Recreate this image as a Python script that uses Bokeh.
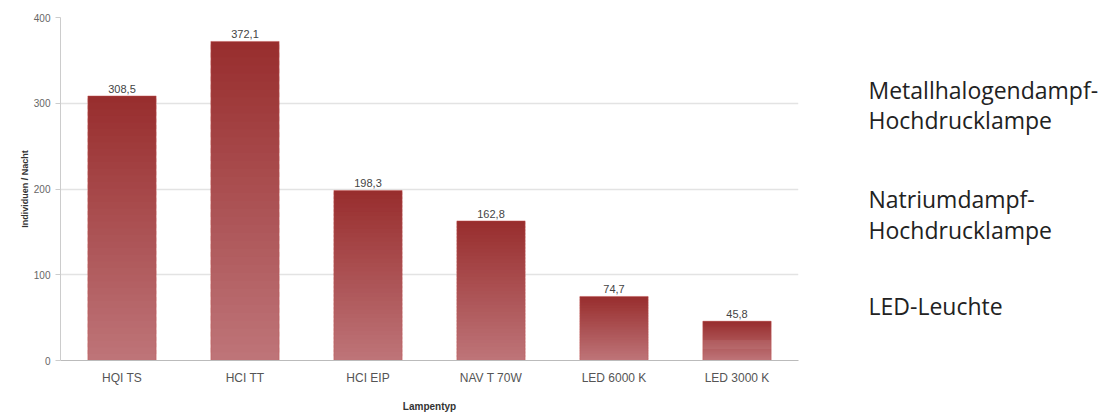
from bokeh.plotting import figure
from bokeh.layouts import row
from bokeh.models import FactorRange, Range1d, ColumnDataSource, FixedTicker
from bokeh.embed import file_html
from bokeh.resources import INLINE
from bokeh.core.properties import value

# ---- data ----
categories = ["HQI TS", "HCI TT", "HCI EIP", "NAV T 70W", "LED 6000 K", "LED 3000 K"]
values = [308.5, 372.1, 198.3, 162.8, 74.7, 45.8]
value_labels = ["308,5", "372,1", "198,3", "162,8", "74,7", "45,8"]
y_ticks = [0, 100, 200, 300, 400]
side_lines = ["Metallhalogendampf-", "Hochdrucklampe", "Natriumdampf-", "Hochdrucklampe", "LED-Leuchte"]

FONT = "Liberation Sans"

p = figure(x_range=FactorRange(*categories, range_padding=0),
           y_range=Range1d(0, 400),
           width=808, height=414, output_backend="svg", toolbar_location=None,
           min_border_left=60, min_border_right=10, min_border_top=17, min_border_bottom=50)
p.x_range.range_padding = 0
p.outline_line_color = None
p.background_fill_color = "white"
p.border_fill_color = "white"

# gradient bars: each bar split into slices from bottom (light) to top (dark)
N = 40
top_rgb = (0x98, 0x2E, 0x2E)
bot_rgb = (0xBE, 0x74, 0x78)
xs, bots, tops, cols = [], [], [], []
for c, v in zip(categories, values):
    for i in range(N):
        t = i / (N - 1)
        r = int(round(bot_rgb[0] + (top_rgb[0] - bot_rgb[0]) * t))
        g = int(round(bot_rgb[1] + (top_rgb[1] - bot_rgb[1]) * t))
        b = int(round(bot_rgb[2] + (top_rgb[2] - bot_rgb[2]) * t))
        xs.append(c)
        bots.append(v * i / N)
        tops.append(min(v, v * (i + 1.6) / N))
        cols.append("#%02x%02x%02x" % (r, g, b))
seg = ColumnDataSource(dict(x=xs, bottom=bots, top=tops, color=cols))
p.vbar(x="x", bottom="bottom", top="top", width=0.555, fill_color="color",
       line_color=None, source=seg)

src = ColumnDataSource(dict(x=categories, top=values, lab=value_labels))
p.vbar(x="x", top="top", width=0.555, fill_color=None, line_color="#c0504d",
       line_alpha=0.45, line_width=1, source=src)
p.text(x="x", y="top", text="lab", source=src, text_align="center",
       text_baseline="bottom", y_offset=-3, text_font=value(FONT),
       text_font_size="11px", text_color="#444444")

# axes
p.yaxis.ticker = FixedTicker(ticks=y_ticks)
p.yaxis.axis_label = "Individuen / Nacht"
p.yaxis.axis_label_text_font = FONT
p.yaxis.axis_label_text_font_size = "9px"
p.yaxis.axis_label_text_font_style = "bold"
p.yaxis.axis_label_text_color = "#333333"
p.yaxis.axis_label_standoff = 1
p.yaxis.major_label_text_font = FONT
p.yaxis.major_label_text_font_size = "10px"
p.yaxis.major_label_text_color = "#666666"
p.yaxis.major_label_standoff = 5
p.yaxis.axis_line_color = "#cccccc"
p.yaxis.major_tick_line_color = "#cccccc"
p.yaxis.major_tick_out = 5
p.yaxis.major_tick_in = 0
p.yaxis.minor_tick_line_color = None

p.xaxis.axis_label = "Lampentyp"
p.xaxis.axis_label_text_font = FONT
p.xaxis.axis_label_text_font_size = "10px"
p.xaxis.axis_label_text_font_style = "bold"
p.xaxis.axis_label_text_color = "#333333"
p.xaxis.axis_label_standoff = 13
p.xaxis.major_label_text_font = FONT
p.xaxis.major_label_text_font_size = "12px"
p.xaxis.major_label_text_color = "#555555"
p.xaxis.major_label_standoff = 10
p.xaxis.axis_line_color = "#bbbbbb"
p.xaxis.major_tick_line_color = None
p.xaxis.major_tick_out = 0
p.xaxis.major_tick_in = 0
p.xaxis.minor_tick_line_color = None

p.xgrid.grid_line_color = None
p.ygrid.grid_line_color = "#e3e3e3"
p.ygrid.grid_line_width = 1.5

# side panel with the explanatory texts (data coordinates = page pixels)
q = figure(width=303, height=414, x_range=Range1d(0, 303), y_range=Range1d(364, 17),
           output_backend="svg", toolbar_location=None, title=None,
           x_axis_location=None, y_axis_location=None,
           min_border_left=0, min_border_right=0, min_border_top=17, min_border_bottom=50,
           outline_line_color=None)
q.grid.grid_line_color = None
side_x = [60, 60, 60, 60, 60]
side_y = [90, 121, 201, 232, 309]
q.text(x=side_x, y=side_y, text=side_lines, text_font=value("Open Sans"),
       text_font_size="23px", text_color="#222222", text_baseline="alphabetic",
       text_align="left")

layout = row(p, q, spacing=0)
open("out.html", "w").write(file_html(layout, INLINE))
